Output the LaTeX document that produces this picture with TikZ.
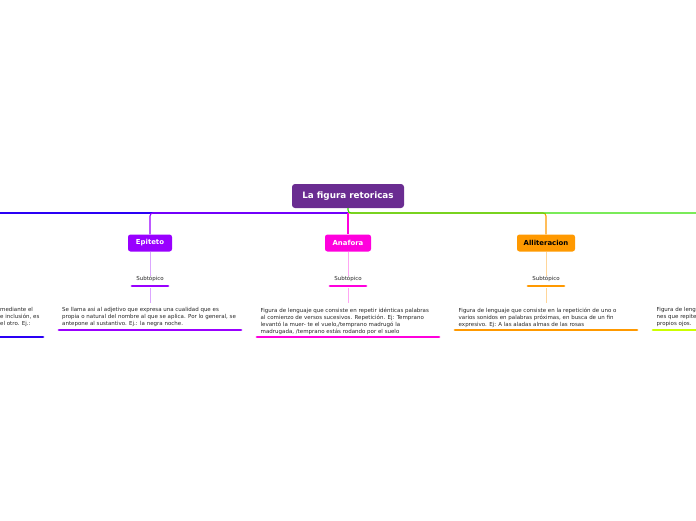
\documentclass[tikz,border=0pt]{standalone}
\usepackage{fontspec}
\setmainfont{DejaVu Sans}
\definecolor{ctitle}{HTML}{6A2C91}
\definecolor{cblue}{HTML}{2A00F5}
\definecolor{cpurple}{HTML}{9900FF}
\definecolor{cmag}{HTML}{FF00DD}
\definecolor{corange}{HTML}{FF9900}
\definecolor{cgreen}{HTML}{33E000}
\definecolor{clime}{HTML}{CCFF00}
\definecolor{ctext}{HTML}{262626}
\begin{document}
\begin{tikzpicture}[x=1pt,y=-1pt,
  topic/.style={rounded corners=2.5pt, minimum height=17pt, inner sep=0pt,
    font=\fontsize{6.9}{8}\selectfont\bfseries, text=white},
  subt/.style={font=\fontsize{5.5}{6}\selectfont, inner sep=0pt, text=ctext},
  body/.style={font=\fontsize{5.5}{7}\selectfont, align=left, anchor=north west,
    inner sep=0pt, text=ctext},
  uline/.style={line width=2.8pt, line cap=round},
  mainline/.style={line width=1.1pt, rounded corners=3pt},
  light/.style={line width=1pt}]
\useasboundingbox (0,0) rectangle (696,520);
\clip (0,0) rectangle (696,520);

% main topic
\node[rounded corners=3pt, fill=ctitle, text=white, minimum width=112pt, minimum height=24pt,
  inner sep=0pt, font=\fontsize{8.8}{10}\selectfont\bfseries] (title) at (348,196) {La figura retoricas};

% branch topics
\node[topic, fill=cpurple, minimum width=44pt] (epi) at (150,243) {Epiteto};
\node[topic, fill=cmag, minimum width=46pt] (ana) at (348,243) {Anafora};
\node[topic, fill=corange, text=black, minimum width=58pt] (alli) at (546,243) {Alliteracion};

% junction coordinates
\coordinate (j) at (348,213);
\coordinate (lend) at (-10,213);
\coordinate (rend) at (710,213);

% main connectors
\draw[mainline, cblue] (j) -- (lend);
\draw[mainline, corange] (j) -| (alli.north);
\draw[mainline, cgreen] (title.south) |- (rend);
\draw[mainline, cpurple] (j) -| (epi.north);
\draw[mainline, cmag] (j) -- (ana.north);

% subtopics
\node[subt] (s1) at (150,279) {Subtópico};
\node[subt] (s2) at (348,279) {Subtópico};
\node[subt] (s3) at (546,279) {Subtópico};
\coordinate (u1l) at (132,286); \coordinate (u1r) at (168,286);
\coordinate (u2l) at (330,286); \coordinate (u2r) at (366,286);
\coordinate (u3l) at (528,286); \coordinate (u3r) at (564,286);
\draw[uline, cpurple] (u1l) -- (u1r);
\draw[uline, cmag] (u2l) -- (u2r);
\draw[uline, corange] (u3l) -- (u3r);

% text blocks
\node[body] (t0) at (0,307.5) {mediante el\\e inclusión, es\\el otro. Ej.:};
\node[body] (t1) at (62,307.5) {Se llama asi al adjetivo que expresa una cualidad que es\\propia o natural del nombre al que se aplica. Por lo general, se\\antepone al sustantivo. Ej.: la negra noche.};
\node[body] (t2) at (260.5,307.5) {Figura de lenguaje que consiste en repetir idénticas palabras\\al comienzo de versos sucesivos. Repetición. Ej: Temprano\\levantó la muer- te el vuelo,/temprano madrugó la\\madrugada, /temprano estás rodando por el suelo};
\node[body] (t3) at (458.5,307.5) {Figura de lenguaje que consiste en la repetición de uno o\\varios sonidos en palabras próximas, en busca de un fin\\expresivo. Ej: A las aladas almas de las rosas};
\node[body] (t4) at (656.5,307.5) {Figura de leng\\nes que repite\\propios ojos.};

% light connectors
\coordinate (b1) at (150,303); \coordinate (b2) at (348,303); \coordinate (b3) at (546,303);
\draw[light, cpurple!35] (epi.south) -- (s1.north);
\draw[light, cpurple!35] (s1.south |- u1l) ++(0,2) -- (b1);
\draw[light, cmag!35] (ana.south) -- (s2.north);
\draw[light, cmag!35] (s2.south |- u2l) ++(0,2) -- (b2);
\draw[light, corange!40] (alli.south) -- (s3.north);
\draw[light, corange!40] (s3.south |- u3l) ++(0,2) -- (b3);

% text underlines
\coordinate (v0l) at (-10,337); \coordinate (v0r) at (43,337);
\coordinate (v1l) at (59,330); \coordinate (v1r) at (241,330);
\coordinate (v2l) at (257,337); \coordinate (v2r) at (439,337);
\coordinate (v3l) at (455,330); \coordinate (v3r) at (637,330);
\coordinate (v4l) at (653,330); \coordinate (v4r) at (710,330);
\draw[uline, cblue] (v0l) -- (v0r);
\draw[uline, cpurple] (v1l) -- (v1r);
\draw[uline, cmag] (v2l) -- (v2r);
\draw[uline, corange] (v3l) -- (v3r);
\draw[uline, clime] (v4l) -- (v4r);
\end{tikzpicture}
\end{document}
